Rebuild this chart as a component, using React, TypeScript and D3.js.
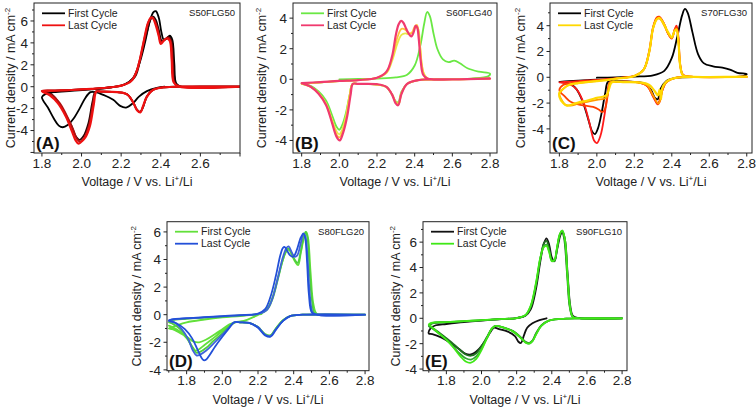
import React from 'react';
import * as d3 from 'd3';

type Pt = [number, number];

// ---------- Panel A (S50FLG50) ----------
const A_first: Pt[] = [[2.42,0.0],[2.38,-0.1],[2.33,-0.4],[2.29,-0.9],[2.26,-1.5],[2.225,-1.9],[2.195,-1.75],[2.16,-1.2],[2.11,-0.75],[2.07,-0.5],[2.045,-0.5],[2.02,-1.0],[1.99,-2.0],[1.96,-2.9],[1.93,-3.5],[1.905,-3.7],[1.885,-3.55],[1.86,-2.9],[1.83,-1.9],[1.80,-0.95],[1.82,-0.65],[1.86,-0.5],[1.95,-0.38],[2.05,-0.25],[2.15,-0.05],[2.22,0.25],[2.26,0.8],[2.29,2.0],[2.32,4.0],[2.345,6.0],[2.363,6.8],[2.375,6.9],[2.39,6.3],[2.403,5.0],[2.415,4.3],[2.43,4.4],[2.445,4.65],[2.458,4.3],[2.468,2.2],[2.478,0.3],[2.50,0.02],[2.60,0],[2.80,0]];
const A_c2: Pt[] = [[2.80,0],[2.50,0],[2.42,-0.05],[2.36,-0.3],[2.33,-0.9],[2.31,-1.9],[2.295,-2.3],[2.28,-2.1],[2.26,-1.4],[2.23,-0.7],[2.18,-0.5],[2.10,-0.45],[2.07,-0.45],[2.055,-1.4],[2.035,-3.3],[2.01,-4.5],[1.99,-4.85],[1.97,-4.5],[1.95,-3.6],[1.93,-2.9],[1.89,-1.6],[1.85,-0.7],[1.80,-0.4],[1.85,-0.36],[1.95,-0.3],[2.05,-0.2],[2.15,-0.05],[2.22,0.2],[2.27,0.9],[2.30,2.8],[2.33,5.0],[2.35,6.2],[2.362,6.4],[2.375,6.1],[2.39,5.2],[2.405,4.2],[2.42,4.3],[2.44,4.55],[2.455,4.2],[2.465,2.0],[2.475,0.3],[2.50,0.02],[2.80,0]];
const A_c3: Pt[] = [[2.80,0],[2.50,0],[2.42,-0.05],[2.36,-0.3],[2.33,-0.9],[2.31,-1.85],[2.297,-2.3],[2.28,-2.1],[2.26,-1.4],[2.23,-0.7],[2.18,-0.5],[2.10,-0.45],[2.072,-0.45],[2.058,-1.5],[2.038,-3.5],[2.015,-4.6],[1.995,-5.0],[1.978,-4.8],[1.96,-4.0],[1.93,-2.8],[1.89,-1.5],[1.85,-0.75],[1.80,-0.4],[1.85,-0.35],[1.95,-0.3],[2.05,-0.2],[2.15,-0.05],[2.21,0.15],[2.26,0.7],[2.29,2.2],[2.32,4.6],[2.34,6.0],[2.355,6.35],[2.37,6.0],[2.385,5.2],[2.40,4.1],[2.415,4.2],[2.435,4.5],[2.45,4.2],[2.46,2.2],[2.47,0.3],[2.50,0.02],[2.80,0]];
const A_last: Pt[] = [[2.80,0],[2.50,0],[2.42,-0.05],[2.36,-0.3],[2.33,-0.9],[2.31,-1.8],[2.297,-2.35],[2.28,-2.15],[2.26,-1.4],[2.23,-0.7],[2.18,-0.5],[2.10,-0.45],[2.075,-0.45],[2.062,-1.6],[2.042,-3.6],[2.02,-4.6],[2.0,-5.0],[1.985,-5.2],[1.97,-4.9],[1.95,-4.0],[1.92,-2.7],[1.88,-1.5],[1.84,-0.8],[1.80,-0.4],[1.85,-0.35],[1.95,-0.3],[2.05,-0.2],[2.15,-0.05],[2.20,0.1],[2.25,0.5],[2.28,1.5],[2.31,3.8],[2.335,5.8],[2.35,6.3],[2.36,6.25],[2.375,5.6],[2.39,4.6],[2.40,3.9],[2.415,4.2],[2.43,4.4],[2.445,4.2],[2.455,2.5],[2.465,0.4],[2.49,0.02],[2.80,0]];

// ---------- Panel B (S60FLG40) ----------
const B_first: Pt[] = [[2.00,0.0],[2.10,0.02],[2.20,0.05],[2.30,0.12],[2.36,0.3],[2.40,0.9],[2.43,2.2],[2.45,3.6],[2.466,4.4],[2.48,4.15],[2.50,3.0],[2.52,2.0],[2.55,1.3],[2.58,1.12],[2.61,1.22],[2.64,1.05],[2.68,0.72],[2.74,0.5],[2.80,0.38],[2.79,0.2],[2.70,0.05],[2.50,0.0],[2.42,-0.05],[2.36,-0.3],[2.33,-0.8],[2.313,-1.5],[2.30,-1.45],[2.28,-1.0],[2.25,-0.5],[2.20,-0.35],[2.10,-0.3],[2.07,-0.3],[2.055,-1.0],[2.035,-2.2],[2.015,-3.0],[2.00,-3.3],[1.985,-3.1],[1.96,-2.3],[1.93,-1.4],[1.89,-0.8],[1.85,-0.45],[1.80,-0.3],[1.85,-0.25],[1.95,-0.15],[2.05,-0.08]];
const B_c2: Pt[] = [[1.80,-0.3],[1.90,-0.2],[2.00,-0.12],[2.10,-0.05],[2.20,0.1],[2.25,0.4],[2.28,1.2],[2.31,2.4],[2.33,2.9],[2.35,3.0],[2.37,2.95],[2.39,3.1],[2.405,3.4],[2.418,3.3],[2.43,2.0],[2.445,0.5],[2.47,0.05],[2.60,0],[2.80,0.05],[2.60,0],[2.42,-0.05],[2.36,-0.3],[2.33,-0.9],[2.315,-1.6],[2.30,-1.5],[2.28,-1.0],[2.25,-0.5],[2.20,-0.35],[2.10,-0.3],[2.07,-0.3],[2.055,-1.0],[2.035,-2.4],[2.015,-3.3],[2.00,-3.6],[1.985,-3.4],[1.96,-2.6],[1.93,-1.6],[1.89,-0.9],[1.85,-0.5],[1.80,-0.3]];
const B_c3: Pt[] = [[1.80,-0.28],[1.90,-0.2],[2.00,-0.12],[2.10,-0.05],[2.20,0.1],[2.25,0.45],[2.28,1.4],[2.31,2.8],[2.33,3.3],[2.35,3.25],[2.37,3.0],[2.385,3.05],[2.40,3.45],[2.412,3.55],[2.425,2.6],[2.44,0.8],[2.46,0.1],[2.60,0],[2.80,0.05],[2.60,0],[2.42,-0.05],[2.36,-0.3],[2.33,-0.9],[2.313,-1.65],[2.30,-1.5],[2.28,-1.0],[2.25,-0.5],[2.20,-0.35],[2.10,-0.3],[2.07,-0.3],[2.055,-1.1],[2.035,-2.6],[2.015,-3.5],[2.00,-3.8],[1.985,-3.6],[1.96,-2.7],[1.93,-1.65],[1.89,-0.9],[1.85,-0.5],[1.80,-0.28]];
const B_last: Pt[] = [[1.80,-0.25],[1.90,-0.18],[2.00,-0.1],[2.10,-0.05],[2.20,0.1],[2.25,0.5],[2.28,1.5],[2.30,2.9],[2.315,3.6],[2.328,3.82],[2.34,3.7],[2.355,3.3],[2.37,2.95],[2.382,2.8],[2.395,3.1],[2.405,3.5],[2.413,3.4],[2.422,2.6],[2.432,1.2],[2.445,0.3],[2.47,0.03],[2.60,0],[2.80,0.05],[2.60,0],[2.42,-0.05],[2.36,-0.3],[2.33,-0.95],[2.312,-1.7],[2.298,-1.55],[2.28,-1.0],[2.25,-0.5],[2.20,-0.32],[2.10,-0.3],[2.072,-0.3],[2.06,-1.0],[2.042,-2.4],[2.02,-3.5],[2.002,-4.0],[1.985,-3.75],[1.96,-2.8],[1.93,-1.7],[1.89,-0.95],[1.85,-0.5],[1.80,-0.25]];

// ---------- Panel C (S70FLG30) ----------
const C_first: Pt[] = [[2.00,-0.02],[2.10,0.0],[2.20,0.05],[2.30,0.15],[2.36,0.5],[2.40,1.5],[2.43,3.2],[2.455,4.8],[2.47,5.3],[2.485,5.0],[2.51,3.5],[2.54,1.8],[2.57,1.1],[2.62,0.85],[2.67,0.75],[2.71,0.6],[2.75,0.35],[2.80,0.25],[2.78,0.1],[2.60,0.02],[2.42,-0.05],[2.37,-0.3],[2.34,-0.9],[2.325,-1.7],[2.31,-1.6],[2.29,-1.0],[2.26,-0.5],[2.20,-0.35],[2.10,-0.3],[2.06,-0.35],[2.045,-1.2],[2.025,-2.8],[2.005,-4.0],[1.99,-4.4],[1.975,-4.2],[1.955,-3.3],[1.925,-1.9],[1.89,-0.9],[1.86,-0.55],[1.82,-0.4],[1.80,-0.35],[1.85,-0.3],[1.95,-0.22],[2.00,-0.18]];
const C_c2: Pt[] = [[2.80,0.05],[2.60,0.02],[2.42,-0.05],[2.37,-0.4],[2.35,-1.0],[2.335,-1.9],[2.325,-2.1],[2.30,-1.5],[2.27,-0.7],[2.22,-0.4],[2.10,-0.35],[2.07,-0.4],[2.055,-1.5],[2.04,-3.0],[2.02,-4.5],[2.0,-5.1],[1.985,-4.9],[1.96,-3.5],[1.93,-2.0],[1.89,-0.9],[1.85,-0.5],[1.80,-0.4],[1.85,-0.35],[1.95,-0.25],[2.05,-0.15],[2.15,0.0],[2.20,0.1],[2.25,0.6],[2.28,2.0],[2.30,3.8],[2.32,4.6],[2.335,4.65],[2.36,4.1],[2.38,3.4],[2.40,3.0],[2.415,3.7],[2.425,4.0],[2.435,3.2],[2.445,1.0],[2.46,0.2],[2.50,0.05],[2.80,0.05]];
const C_c3: Pt[] = [[2.80,0.05],[2.60,0.02],[2.42,-0.05],[2.37,-0.4],[2.35,-1.0],[2.335,-1.8],[2.325,-2.0],[2.30,-1.45],[2.27,-0.7],[2.22,-0.4],[2.10,-0.35],[2.07,-0.4],[2.058,-1.4],[2.045,-2.4],[2.03,-2.7],[2.01,-2.5],[1.98,-2.3],[1.94,-2.2],[1.90,-2.1],[1.86,-1.9],[1.83,-1.5],[1.80,-1.0],[1.82,-0.6],[1.86,-0.45],[1.95,-0.3],[2.05,-0.18],[2.15,0.0],[2.20,0.1],[2.25,0.6],[2.28,2.1],[2.30,3.9],[2.32,4.65],[2.333,4.7],[2.36,4.1],[2.38,3.4],[2.40,3.05],[2.415,3.7],[2.425,3.9],[2.435,3.0],[2.445,0.9],[2.46,0.15],[2.50,0.05],[2.80,0.05]];
const C_c4: Pt[] = [[2.80,0.05],[2.60,0.02],[2.42,-0.05],[2.37,-0.4],[2.35,-0.9],[2.338,-1.8],[2.328,-2.05],[2.30,-1.4],[2.27,-0.65],[2.22,-0.4],[2.10,-0.35],[2.07,-0.4],[2.06,-1.2],[2.05,-1.6],[2.0,-1.75],[1.95,-1.9],[1.90,-2.05],[1.86,-2.2],[1.83,-2.1],[1.81,-1.7],[1.80,-1.3],[1.82,-0.9],[1.85,-0.6],[1.90,-0.45],[2.0,-0.3],[2.1,-0.1],[2.2,0.1],[2.25,0.6],[2.28,2.0],[2.30,3.8],[2.32,4.5],[2.335,4.55],[2.36,4.0],[2.38,3.4],[2.40,3.05],[2.415,3.6],[2.425,3.75],[2.435,2.9],[2.445,0.9],[2.46,0.15],[2.50,0.05],[2.80,0.05]];
const C_last: Pt[] = [[2.80,0.05],[2.60,0.02],[2.42,-0.05],[2.37,-0.35],[2.35,-0.8],[2.342,-1.7],[2.335,-0.95],[2.326,-1.4],[2.31,-1.1],[2.28,-0.6],[2.24,-0.42],[2.15,-0.38],[2.08,-0.4],[2.065,-0.9],[2.05,-1.4],[2.00,-1.6],[1.95,-1.8],[1.90,-1.95],[1.86,-2.15],[1.84,-2.2],[1.82,-2.0],[1.80,-1.5],[1.80,-1.2],[1.82,-0.9],[1.85,-0.6],[1.90,-0.45],[2.00,-0.3],[2.10,-0.12],[2.20,0.1],[2.25,0.6],[2.28,2.0],[2.30,3.8],[2.32,4.5],[2.335,4.6],[2.355,4.2],[2.38,3.5],[2.40,3.1],[2.415,3.6],[2.425,3.7],[2.435,2.8],[2.445,0.9],[2.46,0.15],[2.50,0.05],[2.80,0.05]];

// ---------- Panel D (S80FLG20) ----------
const D_first: Pt[] = [[2.22,0.05],[2.10,-0.1],[2.00,-0.2],[1.90,-0.35],[1.80,-0.55],[1.74,-0.8],[1.70,-1.0],[1.72,-1.05],[1.76,-1.3],[1.80,-1.6],[1.84,-1.95],[1.87,-2.0],[1.91,-1.8],[1.96,-1.4],[2.00,-1.05],[2.04,-0.7],[2.07,-0.55],[2.12,-0.45],[2.17,-0.2],[2.21,0.05],[2.25,0.4],[2.28,1.2],[2.31,2.6],[2.34,4.0],[2.36,4.6],[2.375,4.7],[2.39,4.3],[2.41,3.8],[2.425,3.6],[2.44,4.5],[2.46,5.7],[2.47,6.0],[2.48,5.6],[2.495,3.0],[2.51,0.8],[2.53,0.05],[2.60,0],[2.80,0],[2.60,0],[2.45,0],[2.38,-0.1],[2.34,-0.4],[2.30,-1.0],[2.27,-1.5],[2.24,-1.4],[2.20,-0.9],[2.15,-0.6],[2.10,-0.55],[2.07,-0.55],[2.04,-0.8],[2.0,-1.2],[1.95,-1.7],[1.90,-2.2],[1.87,-2.5],[1.85,-2.6],[1.83,-2.3],[1.80,-1.7],[1.76,-1.2],[1.72,-0.9],[1.70,-0.8]];
const D_c2: Pt[] = [[2.80,0],[2.45,0],[2.38,-0.1],[2.34,-0.4],[2.30,-1.0],[2.27,-1.5],[2.24,-1.45],[2.20,-0.9],[2.15,-0.6],[2.10,-0.55],[2.07,-0.55],[2.04,-0.85],[2.00,-1.35],[1.95,-1.9],[1.91,-2.4],[1.875,-2.7],[1.855,-2.75],[1.83,-2.3],[1.80,-1.6],[1.76,-1.0],[1.72,-0.65],[1.70,-0.55],[1.72,-0.4],[1.80,-0.3],[1.90,-0.22],[2.00,-0.15],[2.10,-0.05],[2.20,0.05],[2.25,0.35],[2.28,1.1],[2.31,2.5],[2.34,4.0],[2.36,4.7],[2.372,4.8],[2.39,4.4],[2.41,3.9],[2.422,3.75],[2.44,4.6],[2.455,5.6],[2.467,6.0],[2.478,5.5],[2.49,3.0],[2.505,0.8],[2.52,0.05],[2.60,0],[2.80,0]];
const D_c3: Pt[] = [[2.80,0],[2.45,0],[2.38,-0.1],[2.34,-0.45],[2.30,-1.05],[2.27,-1.55],[2.24,-1.45],[2.20,-0.9],[2.15,-0.6],[2.10,-0.55],[2.07,-0.55],[2.04,-0.9],[2.00,-1.45],[1.95,-2.1],[1.91,-2.6],[1.875,-2.9],[1.855,-2.95],[1.835,-2.6],[1.81,-1.8],[1.77,-1.0],[1.73,-0.55],[1.70,-0.45],[1.73,-0.33],[1.80,-0.27],[1.90,-0.2],[2.00,-0.12],[2.10,-0.05],[2.20,0.05],[2.25,0.35],[2.28,1.15],[2.31,2.6],[2.34,4.2],[2.36,4.85],[2.372,4.95],[2.39,4.5],[2.405,4.2],[2.42,4.3],[2.44,5.2],[2.455,5.85],[2.465,5.7],[2.478,4.0],[2.49,1.5],[2.505,0.2],[2.52,0.02],[2.80,0]];
const D_last: Pt[] = [[2.80,0],[2.45,0],[2.38,-0.1],[2.34,-0.45],[2.30,-1.1],[2.27,-1.6],[2.24,-1.5],[2.20,-0.95],[2.15,-0.6],[2.10,-0.55],[2.065,-0.55],[2.04,-0.95],[2.00,-1.6],[1.96,-2.3],[1.93,-2.9],[1.91,-3.25],[1.895,-3.3],[1.88,-3.05],[1.86,-2.5],[1.83,-1.7],[1.79,-1.05],[1.74,-0.6],[1.70,-0.42],[1.73,-0.32],[1.80,-0.25],[1.90,-0.18],[2.00,-0.1],[2.10,-0.03],[2.20,0.08],[2.24,0.4],[2.27,1.3],[2.30,2.8],[2.325,4.3],[2.34,4.85],[2.35,4.9],[2.365,4.6],[2.38,4.3],[2.398,4.2],[2.415,4.6],[2.44,5.6],[2.455,5.9],[2.465,5.5],[2.475,3.8],[2.485,1.5],[2.50,0.2],[2.52,0.02],[2.80,0]];

// ---------- Panel E (S90FLG10) ----------
const E_first: Pt[] = [[2.37,0.0],[2.33,-0.15],[2.29,-0.4],[2.26,-0.75],[2.24,-1.4],[2.225,-1.95],[2.21,-1.85],[2.19,-1.4],[2.15,-1.05],[2.10,-0.85],[2.07,-0.75],[2.05,-1.1],[2.02,-1.8],[1.98,-2.5],[1.94,-2.85],[1.91,-2.8],[1.87,-2.4],[1.82,-1.9],[1.77,-1.5],[1.72,-1.25],[1.70,-1.2],[1.71,-0.8],[1.74,-0.55],[1.80,-0.45],[1.90,-0.3],[2.00,-0.18],[2.10,-0.08],[2.20,0.02],[2.25,0.2],[2.28,0.7],[2.31,2.3],[2.335,4.5],[2.355,5.9],[2.37,6.3],[2.385,5.8],[2.40,4.8],[2.415,4.5],[2.43,5.4],[2.45,6.6],[2.46,6.8],[2.475,6.2],[2.49,3.5],[2.505,1.0],[2.52,0.2],[2.55,0.03],[2.80,0]];
const E_c2: Pt[] = [[2.80,0],[2.55,0],[2.45,-0.05],[2.38,-0.2],[2.34,-0.55],[2.31,-1.2],[2.29,-1.75],[2.27,-1.95],[2.25,-1.85],[2.22,-1.45],[2.18,-1.0],[2.13,-0.75],[2.08,-0.6],[2.06,-0.8],[2.03,-1.5],[2.00,-2.2],[1.97,-2.75],[1.94,-2.95],[1.91,-2.85],[1.87,-2.4],[1.83,-1.9],[1.78,-1.35],[1.73,-0.85],[1.70,-0.6],[1.72,-0.4],[1.80,-0.32],[1.90,-0.24],[2.00,-0.16],[2.10,-0.07],[2.20,0.02],[2.25,0.22],[2.28,0.85],[2.31,2.6],[2.335,4.7],[2.355,5.9],[2.37,6.1],[2.385,5.5],[2.40,4.6],[2.415,4.5],[2.43,5.5],[2.445,6.5],[2.458,6.8],[2.47,6.3],[2.487,3.5],[2.502,0.9],[2.52,0.1],[2.56,0],[2.80,0]];
const E_c3: Pt[] = [[2.80,0],[2.55,0],[2.45,-0.05],[2.38,-0.2],[2.34,-0.6],[2.31,-1.25],[2.29,-1.8],[2.27,-2.0],[2.25,-1.9],[2.22,-1.5],[2.18,-1.05],[2.13,-0.75],[2.08,-0.6],[2.06,-0.8],[2.03,-1.55],[2.00,-2.4],[1.97,-3.0],[1.94,-3.25],[1.91,-3.15],[1.87,-2.7],[1.83,-2.1],[1.78,-1.45],[1.73,-0.9],[1.70,-0.55],[1.72,-0.38],[1.80,-0.3],[1.90,-0.23],[2.00,-0.15],[2.10,-0.07],[2.20,0.02],[2.25,0.24],[2.28,0.95],[2.31,2.7],[2.335,4.75],[2.355,5.7],[2.37,5.8],[2.385,5.3],[2.40,4.55],[2.415,4.55],[2.43,5.55],[2.445,6.6],[2.46,6.9],[2.473,6.3],[2.49,3.3],[2.505,0.8],[2.52,0.1],[2.56,0],[2.80,0]];
const E_last: Pt[] = [[2.80,0],[2.55,0],[2.45,-0.05],[2.38,-0.2],[2.34,-0.6],[2.31,-1.3],[2.29,-1.8],[2.27,-2.0],[2.25,-1.9],[2.22,-1.5],[2.18,-1.05],[2.13,-0.75],[2.08,-0.6],[2.06,-0.8],[2.03,-1.6],[2.00,-2.5],[1.97,-3.2],[1.94,-3.5],[1.91,-3.4],[1.88,-3.0],[1.84,-2.3],[1.80,-1.7],[1.75,-1.1],[1.71,-0.6],[1.70,-0.5],[1.72,-0.35],[1.80,-0.3],[1.90,-0.22],[2.00,-0.15],[2.10,-0.07],[2.20,0.02],[2.25,0.25],[2.28,1.0],[2.31,2.8],[2.335,4.8],[2.355,5.6],[2.37,5.7],[2.385,5.2],[2.40,4.5],[2.415,4.6],[2.43,5.6],[2.445,6.6],[2.46,6.9],[2.475,6.2],[2.49,3.2],[2.505,0.8],[2.52,0.1],[2.56,0],[2.80,0]];

// ---------- tick labels / names ----------
const xLabelsA = [1.8, 2.0, 2.2, 2.4, 2.6];
const xLabelsFull = [1.8, 2.0, 2.2, 2.4, 2.6, 2.8];
const yLabelsA = [-4, -2, 0, 2, 4, 6];
const yLabelsBC = [-4, -2, 0, 2, 4];
const yLabelsDE = [-4, -2, 0, 2, 4, 6];
const sampleNames = ['S50FLG50', 'S60FLG40', 'S70FLG30', 'S80FLG20', 'S90FLG10'];
const panelTags = ['(A)', '(B)', '(C)', '(D)', '(E)'];
const legendLabels = ['First Cycle', 'Last Cycle'];

const FONT = "'Liberation Sans', Arial, Helvetica, sans-serif";

type Curve = { data: Pt[]; color: string; w?: number };
type PanelCfg = {
  key: string;
  x0: number; x1: number; y0: number; y1: number;
  xd: [number, number]; yd: [number, number];
  xLabels: number[]; yLabels: number[];
  name: string; tag: string;
  firstColor: string; lastColor: string;
  curves: Curve[];
  legY: number;
  yTitleX: number;
};

const panels: PanelCfg[] = [
  { key: 'A', x0: 34, x1: 240, y0: 3, y1: 153, xd: [1.76, 2.8], yd: [-6.05, 7.64], xLabels: xLabelsA, yLabels: yLabelsA,
    name: sampleNames[0], tag: panelTags[0], firstColor: '#000000', lastColor: '#ee1111', legY: 13.3, yTitleX: 14.5,
    curves: [{ data: A_first, color: '#000000' }, { data: A_c2, color: '#2a0505' }, { data: A_c3, color: '#b01010' }, { data: A_last, color: '#ee1111', w: 2.2 }] },
  { key: 'B', x0: 293, x1: 497, y0: 3, y1: 153, xd: [1.754, 2.837], yd: [-4.82, 4.99], xLabels: xLabelsFull, yLabels: yLabelsBC,
    name: sampleNames[1], tag: panelTags[1], firstColor: '#6ae844', lastColor: '#f03a6e', legY: 13.3, yTitleX: 266,
    curves: [{ data: B_first, color: '#6ae844' }, { data: B_c2, color: '#e8e84a' }, { data: B_c3, color: '#ffc23c' }, { data: B_last, color: '#f03a6e', w: 2.2 }] },
  { key: 'C', x0: 550, x1: 752, y0: 3, y1: 153, xd: [1.75, 2.828], yd: [-5.87, 5.76], xLabels: xLabelsFull, yLabels: yLabelsBC,
    name: sampleNames[2], tag: panelTags[2], firstColor: '#000000', lastColor: '#ffd800', legY: 13.3, yTitleX: 524.5,
    curves: [{ data: C_first, color: '#000000' }, { data: C_c2, color: '#ff1a1a' }, { data: C_c3, color: '#ff4000' }, { data: C_c4, color: '#ff9a00' }, { data: C_last, color: '#ffd800', w: 2.2 }] },
  { key: 'D', x0: 167, x1: 369, y0: 221.7, y1: 370.7, xd: [1.69, 2.822], yd: [-4.06, 6.74], xLabels: xLabelsFull, yLabels: yLabelsDE,
    name: sampleNames[3], tag: panelTags[3], firstColor: '#62e03a', lastColor: '#2350d8', legY: 231.7, yTitleX: 141,
    curves: [{ data: D_first, color: '#62e03a' }, { data: D_c2, color: '#4fcf3f' }, { data: D_c3, color: '#3f63d9' }, { data: D_last, color: '#2350d8' }] },
  { key: 'E', x0: 423, x1: 627, y0: 221.7, y1: 370.7, xd: [1.667, 2.828], yd: [-4.13, 7.61], xLabels: xLabelsFull, yLabels: yLabelsDE,
    name: sampleNames[4], tag: panelTags[4], firstColor: '#111111', lastColor: '#3fe816', legY: 231.7, yTitleX: 399.5,
    curves: [{ data: E_first, color: '#111111' }, { data: E_c2, color: '#1f6f1f' }, { data: E_c3, color: '#35a535' }, { data: E_last, color: '#3fe816' }] },
];

function Panel({ p }: { p: PanelCfg }) {
  const x = d3.scaleLinear().domain(p.xd).range([p.x0, p.x1]);
  const y = d3.scaleLinear().domain(p.yd).range([p.y1, p.y0]);
  const line = d3.line<Pt>().x(d => x(d[0])).y(d => y(d[1])).curve(d3.curveCatmullRom.alpha(0.5));

  const xTicks: { v: number; major: boolean }[] = [];
  for (let k = Math.ceil(p.xd[0] * 10 - 1e-6); k <= Math.floor(p.xd[1] * 10 + 1e-6); k++) {
    xTicks.push({ v: k / 10, major: k % 2 === 0 });
  }
  const yTicks: { v: number; major: boolean }[] = [];
  for (let k = Math.ceil(p.yd[0]); k <= Math.floor(p.yd[1]); k++) {
    yTicks.push({ v: k, major: k % 2 === 0 });
  }
  const clipId = `clip-${p.key}`;
  const cx = (p.x0 + p.x1) / 2;
  const cy = (p.y0 + p.y1) / 2;
  const legX = p.x0 + 8;
  return (
    <g fontFamily={FONT}>
      <defs>
        <clipPath id={clipId}>
          <rect x={p.x0} y={p.y0} width={p.x1 - p.x0} height={p.y1 - p.y0} />
        </clipPath>
      </defs>
      <g clipPath={`url(#${clipId})`}>
        {p.curves.map((c, i) => (
          <path key={i} d={line(c.data) || ''} fill="none" stroke={c.color} strokeWidth={c.w ?? 1.8}
            strokeLinejoin="round" strokeLinecap="round" />
        ))}
      </g>
      <rect x={p.x0} y={p.y0} width={p.x1 - p.x0} height={p.y1 - p.y0} fill="none" stroke="#222" strokeWidth={1} />
      {xTicks.map((t, i) => (
        <line key={'xt' + i} x1={x(t.v)} x2={x(t.v)} y1={p.y1} y2={p.y1 + (t.major ? 3.5 : 2)} stroke="#222" strokeWidth={1} />
      ))}
      {yTicks.map((t, i) => (
        <line key={'yt' + i} x1={p.x0} x2={p.x0 - (t.major ? 3.5 : 2)} y1={y(t.v)} y2={y(t.v)} stroke="#222" strokeWidth={1} />
      ))}
      {p.xLabels.map((v, i) => (
        <text key={'xl' + i} x={x(v)} y={p.y1 + 14.5} textAnchor="middle" fontSize={13.5} fill="#222">{v.toFixed(1)}</text>
      ))}
      {p.yLabels.map((v, i) => (
        <text key={'yl' + i} x={p.x0 - 6} y={y(v)} dy="0.36em" textAnchor="end" fontSize={13.5} fill="#222">{v}</text>
      ))}
      <text x={cx} y={p.y1 + 33} textAnchor="middle" fontSize={12.5} fill="#222">
        Voltage / V vs. Li<tspan dy={-5} fontSize={8}>+</tspan><tspan dy={5}>/Li</tspan>
      </text>
      <text transform={`translate(${p.yTitleX},${cy}) rotate(-90)`} textAnchor="middle" fontSize={12.5} fill="#222">
        Current density / mA cm<tspan dy={-5} fontSize={8}>-2</tspan>
      </text>
      <line x1={legX} x2={legX + 23} y1={p.legY} y2={p.legY} stroke={p.firstColor} strokeWidth={1.8} />
      <text x={legX + 26} y={p.legY} dy="0.35em" fontSize={10.5} fill="#222">{legendLabels[0]}</text>
      <line x1={legX} x2={legX + 23} y1={p.legY + 12} y2={p.legY + 12} stroke={p.lastColor} strokeWidth={1.8} />
      <text x={legX + 26} y={p.legY + 12} dy="0.35em" fontSize={10.5} fill="#222">{legendLabels[1]}</text>
      <text x={p.x1 - 5} y={p.y0 + 13} textAnchor="end" fontSize={9.5} fill="#222">{p.name}</text>
      <text x={p.x0 + 2} y={p.y1 - 4} fontSize={17} fontWeight="bold" fill="#111">{p.tag}</text>
    </g>
  );
}

export default function App() {
  return (
    <svg width={756} height={412} viewBox="0 0 756 412"
      style={{ position: 'absolute', left: 0, top: 0, background: '#fff' }}>
      <rect x={0} y={0} width={756} height={412} fill="#fff" />
      {panels.map(p => <Panel key={p.key} p={p} />)}
    </svg>
  );
}
